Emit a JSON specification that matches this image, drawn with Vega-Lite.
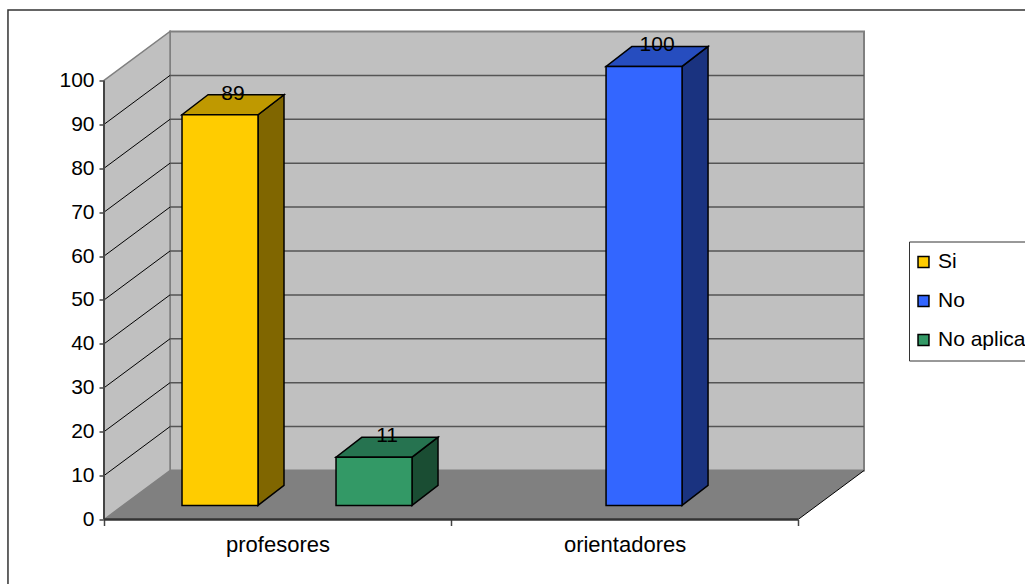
{
"$schema":"https://vega.github.io/schema/vega-lite/v6.json",
"width":760,"height":488,
"autosize":{"type":"none"},
"padding":{"left":104,"top":31.5,"right":161,"bottom":64.5},
"background":"white",
"config":{"view":{"stroke":null},"font":"Liberation Sans"},
"datasets":{
"bars":[
{"categoria":"profesores","serie":"Si","valor":89},
{"categoria":"profesores","serie":"No aplica","valor":11},
{"categoria":"orientadores","serie":"No","valor":100}],
"ticks":[{"v":0},{"v":10},{"v":20},{"v":30},{"v":40},{"v":50},{"v":60},{"v":70},{"v":80},{"v":90},{"v":100}],
"depth":[{"d":0},{"d":1}],
"one":[{"k":1}]
},
"resolve":{"scale":{"color":"independent"},"axis":{"x":"independent","y":"independent"}},
"layer":[
{"data":{"name":"one"},"mark":{"type":"rect","fill":"transparent","stroke":"#333333","strokeWidth":1.5},
 "encoding":{"x":{"datum":-0.2767,"type":"quantitative","axis":null,"scale":{"domain":[0,2.19],"nice":false,"zero":false}},"x2":{"datum":3},
 "y":{"datum":116.06,"type":"quantitative","axis":null,"scale":{"domain":[0,111.16],"nice":false,"zero":false}},"y2":{"datum":-30}}},
{"data":{"name":"one"},"mark":{"type":"rect","fill":"#C0C0C0","stroke":"#808080","strokeWidth":2},
 "encoding":{"x":{"datum":0.1902,"type":"quantitative","axis":null,"scale":{"domain":[0,2.19],"nice":false,"zero":false}},"x2":{"datum":2.19},
 "y":{"datum":11.16,"type":"quantitative","axis":null,"scale":{"domain":[0,111.16],"nice":false,"zero":false}},"y2":{"datum":111.16}}},
{"data":{"name":"depth"},
 "transform":[{"calculate":"datum.d*0.1902","as":"wx"},{"calculate":"datum.d*11.16","as":"wy"},{"calculate":"100+datum.d*11.16","as":"wy2"}],
 "mark":{"type":"area","fill":"#C0C0C0","stroke":"#808080","strokeWidth":1.5},
 "encoding":{"x":{"field":"wx","type":"quantitative","axis":null,"stack":null,"scale":{"domain":[0,2.19],"nice":false,"zero":false}},
 "y":{"field":"wy","type":"quantitative","axis":null,"stack":null,"scale":{"domain":[0,111.16],"nice":false,"zero":false}},"y2":{"field":"wy2"}}},
{"data":{"name":"depth"},
 "transform":[{"calculate":"datum.d*0.1902","as":"fx"},{"calculate":"2+datum.d*0.1902","as":"fx2"},{"calculate":"datum.d*11.16","as":"fy"}],
 "mark":{"type":"area","orient":"horizontal","fill":"#808080"},
 "encoding":{"y":{"field":"fy","type":"quantitative","axis":null,"stack":null,"scale":{"domain":[0,111.16],"nice":false,"zero":false}},
 "x":{"field":"fx","type":"quantitative","axis":null,"stack":null,"scale":{"domain":[0,2.19],"nice":false,"zero":false}},"x2":{"field":"fx2"}}},
{"data":{"name":"ticks"},
 "transform":[{"filter":"datum.v>0 && datum.v<100"},{"calculate":"datum.v+11.16","as":"gy"}],
 "mark":{"type":"rule","color":"#555555","strokeWidth":1.5},
 "encoding":{"x":{"datum":0.1902,"type":"quantitative","scale":{"domain":[0,2.19],"nice":false,"zero":false},
   "axis":{"title":null,"orient":"bottom","values":[0,0.5,1,1.5,2],"grid":false,"domain":false,"labelExpr":"datum.value==0.5?'profesores':(datum.value==1.5?'orientadores':'')","labelFontSize":22,"labelColor":"#000000","labelPadding":9,"labelOverlap":false,"labelBound":false,"labelFlush":false,"tickSize":6,"tickColor":"#444444","tickWidth":1.5,"tickOpacity":{"condition":{"test":"datum.value%1!=0","value":0},"value":1}}},
  "x2":{"datum":2.19},
  "y":{"field":"gy","type":"quantitative","scale":{"domain":[0,111.16],"nice":false,"zero":false},
   "axis":{"title":null,"orient":"left","values":[0,10,20,30,40,50,60,70,80,90,100],"grid":false,"domain":false,"labelFontSize":21,"labelColor":"#000000","labelPadding":5,"tickSize":5,"tickColor":"#444444","tickWidth":1.5}}}},
{"data":{"name":"ticks"},
 "transform":[{"filter":"datum.v>0 && datum.v<100"},{"calculate":"datum.v+11.16","as":"gy2"}],
 "mark":{"type":"rule","color":"#000000","strokeWidth":1},
 "encoding":{"x":{"datum":0,"type":"quantitative","axis":null,"scale":{"domain":[0,2.19],"nice":false,"zero":false}},"x2":{"datum":0.1902},
 "y":{"field":"v","type":"quantitative","axis":null,"scale":{"domain":[0,111.16],"nice":false,"zero":false}},"y2":{"field":"gy2"}}},
{"data":{"name":"one"},"mark":{"type":"rule","color":"#000000","strokeWidth":1},
 "encoding":{"x":{"datum":2,"type":"quantitative","axis":null,"scale":{"domain":[0,2.19],"nice":false,"zero":false}},"x2":{"datum":2.1902},
 "y":{"datum":0,"type":"quantitative","axis":null,"scale":{"domain":[0,111.16],"nice":false,"zero":false}},"y2":{"datum":11.16}}},
{"data":{"name":"one"},"mark":{"type":"rule","color":"#444444","strokeWidth":2},
 "encoding":{"x":{"datum":0,"type":"quantitative","axis":null,"scale":{"domain":[0,2.19],"nice":false,"zero":false}},
 "y":{"datum":0,"type":"quantitative","axis":null,"scale":{"domain":[0,111.16],"nice":false,"zero":false}},"y2":{"datum":100}}},
{"data":{"name":"one"},"mark":{"type":"rule","color":"#333333","strokeWidth":2.5},
 "encoding":{"x":{"datum":0,"type":"quantitative","axis":null,"scale":{"domain":[0,2.19],"nice":false,"zero":false}},"x2":{"datum":2},
 "y":{"datum":0,"type":"quantitative","axis":null,"scale":{"domain":[0,111.16],"nice":false,"zero":false}}}},
{"data":{"name":"bars"},
 "transform":[
  {"calculate":"(datum.categoria=='orientadores'?1:0)+0.2248+0.2219*indexof(['Si','No','No aplica'],datum.serie)","as":"xl"},
  {"calculate":"datum.xl+0.219","as":"xr"},
  {"calculate":"[0,1]","as":"d"},{"flatten":["d"]},
  {"calculate":"datum.xr+datum.d*0.0749","as":"sx"},
  {"calculate":"3.2+datum.d*4.556","as":"sy"},
  {"calculate":"3.2+datum.valor+datum.d*4.556","as":"sy2"}],
 "mark":{"type":"area","stroke":"#000000","strokeWidth":1.5},
 "encoding":{"x":{"field":"sx","type":"quantitative","axis":null,"stack":null,"scale":{"domain":[0,2.19],"nice":false,"zero":false}},
 "y":{"field":"sy","type":"quantitative","axis":null,"stack":null,"scale":{"domain":[0,111.16],"nice":false,"zero":false}},"y2":{"field":"sy2"},
 "color":{"field":"serie","type":"nominal","legend":null,"scale":{"domain":["Si","No","No aplica"],"range":["#806600","#1A3380","#1A4D33"]}}}},
{"data":{"name":"bars"},
 "transform":[
  {"calculate":"(datum.categoria=='orientadores'?1:0)+0.2248+0.2219*indexof(['Si','No','No aplica'],datum.serie)","as":"xl"},
  {"calculate":"datum.xl+0.219","as":"xr"},
  {"calculate":"[0,1]","as":"d"},{"flatten":["d"]},
  {"calculate":"datum.xl+datum.d*0.0749","as":"tx"},
  {"calculate":"datum.xr+datum.d*0.0749","as":"tx2"},
  {"calculate":"3.2+datum.valor+datum.d*4.556","as":"ty"}],
 "mark":{"type":"area","orient":"horizontal","stroke":"#000000","strokeWidth":1.5},
 "encoding":{"y":{"field":"ty","type":"quantitative","axis":null,"stack":null,"scale":{"domain":[0,111.16],"nice":false,"zero":false}},
 "x":{"field":"tx","type":"quantitative","axis":null,"stack":null,"scale":{"domain":[0,2.19],"nice":false,"zero":false}},"x2":{"field":"tx2"},
 "color":{"field":"serie","type":"nominal","legend":null,"scale":{"domain":["Si","No","No aplica"],"range":["#BF9900","#264DBF","#267350"]}}}},
{"data":{"name":"bars"},
 "transform":[
  {"calculate":"(datum.categoria=='orientadores'?1:0)+0.2248+0.2219*indexof(['Si','No','No aplica'],datum.serie)","as":"xl"},
  {"calculate":"datum.xl+0.219","as":"xr"},
  {"calculate":"3.2+datum.valor","as":"top"},{"calculate":"3.2","as":"base"}],
 "mark":{"type":"rect","stroke":"#000000","strokeWidth":1.5},
 "encoding":{"x":{"field":"xl","type":"quantitative","axis":null,"scale":{"domain":[0,2.19],"nice":false,"zero":false}},"x2":{"field":"xr"},
 "y":{"field":"top","type":"quantitative","axis":null,"scale":{"domain":[0,111.16],"nice":false,"zero":false}},"y2":{"field":"base"},
 "color":{"field":"serie","type":"nominal","title":null,"scale":{"domain":["Si","No","No aplica"],"range":["#FFCC00","#3366FF","#339966"]},
  "legend":{"orient":"none","legendX":805,"legendY":210,"title":null,"fillColor":"#FFFFFF","strokeColor":"#333333","padding":10,"symbolType":"square","symbolSize":120,"symbolStrokeColor":"#000000","symbolStrokeWidth":1.5,"labelFontSize":21,"labelColor":"#000000","labelLimit":300,"rowPadding":17,"labelOffset":4,"symbolOffset":-6,"symbolOpacity":1}}}},
{"data":{"name":"bars"},
 "transform":[
  {"calculate":"(datum.categoria=='orientadores'?1:0)+0.2248+0.2219*indexof(['Si','No','No aplica'],datum.serie)+0.1095+0.0375","as":"lx"},
  {"calculate":"3.2+datum.valor+4.556","as":"ly"}],
 "mark":{"type":"text","fontSize":21,"color":"#000000","baseline":"middle","align":"center","dy":-1},
 "encoding":{"x":{"field":"lx","type":"quantitative","axis":null,"scale":{"domain":[0,2.19],"nice":false,"zero":false}},
 "y":{"field":"ly","type":"quantitative","axis":null,"scale":{"domain":[0,111.16],"nice":false,"zero":false}},
 "text":{"field":"valor","type":"quantitative"}}}
]
}
